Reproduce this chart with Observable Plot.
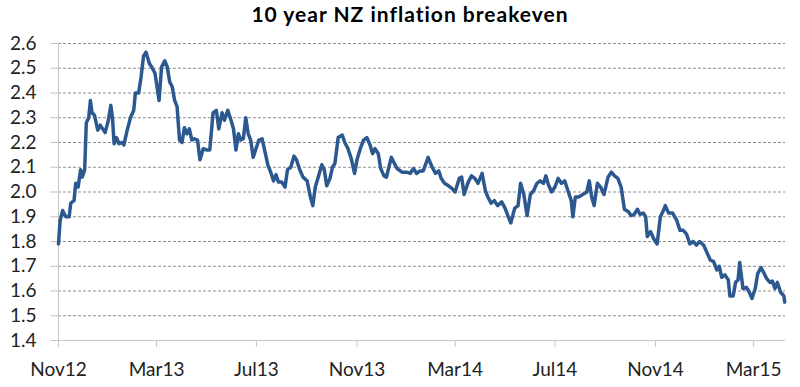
<!DOCTYPE html>
<html><head><meta charset="utf-8">
<script src="https://cdn.jsdelivr.net/npm/d3@7"></script>
<script src="https://cdn.jsdelivr.net/npm/@observablehq/plot@0.6"></script>
<style>
body{margin:0;background:#fff;font-family:Lato,sans-serif}
#title{width:800px;height:30px;line-height:28px;font-weight:bold;font-size:21px;letter-spacing:1px;text-align:center;padding-left:20px;box-sizing:border-box;color:#000}
</style>
</head><body>
<div id="title">10 year NZ inflation breakeven</div>
<div id="chart"></div>
<script>
const title = "10 year NZ inflation breakeven";
const dates = [
"2012-11-01","2012-11-03","2012-11-06","2012-11-10","2012-11-14","2012-11-16","2012-11-20","2012-11-22","2012-11-25","2012-11-28","2012-11-30",
"2012-12-03","2012-12-05","2012-12-08","2012-12-10","2012-12-12","2012-12-15","2012-12-19","2012-12-22","2012-12-25","2012-12-28",
"2013-01-01","2013-01-04","2013-01-06","2013-01-08","2013-01-11","2013-01-14","2013-01-18","2013-01-20","2013-01-24","2013-01-28",
"2013-02-01","2013-02-03","2013-02-07","2013-02-10","2013-02-13","2013-02-16","2013-02-20","2013-02-23","2013-02-27",
"2013-03-04","2013-03-07","2013-03-11","2013-03-14","2013-03-17","2013-03-20","2013-03-23","2013-03-26","2013-03-29",
"2013-04-01","2013-04-04","2013-04-07","2013-04-10","2013-04-13","2013-04-16","2013-04-20","2013-04-23","2013-04-27",
"2013-05-01","2013-05-05","2013-05-09","2013-05-13","2013-05-16","2013-05-20","2013-05-23","2013-05-27","2013-05-31",
"2013-06-03","2013-06-06","2013-06-09","2013-06-12","2013-06-15","2013-06-18","2013-06-21","2013-06-24","2013-06-27","2013-06-30",
"2013-07-04","2013-07-08","2013-07-12","2013-07-15","2013-07-19","2013-07-22","2013-07-25","2013-07-28",
"2013-08-01","2013-08-05","2013-08-08","2013-08-12","2013-08-16","2013-08-19","2013-08-23","2013-08-27",
"2013-09-01","2013-09-05","2013-09-08","2013-09-11","2013-09-15","2013-09-19","2013-09-22","2013-09-25","2013-09-29",
"2013-10-02","2013-10-05","2013-10-09","2013-10-14","2013-10-17","2013-10-21","2013-10-25","2013-10-29",
"2013-11-01","2013-11-05","2013-11-09","2013-11-13","2013-11-17","2013-11-20","2013-11-23","2013-11-27","2013-11-30",
"2013-12-04","2013-12-07","2013-12-10","2013-12-13","2013-12-16","2013-12-20","2013-12-26",
"2014-01-01","2014-01-05","2014-01-09","2014-01-13","2014-01-17","2014-01-21","2014-01-27","2014-01-30",
"2014-02-01","2014-02-05","2014-02-09","2014-02-12","2014-02-16","2014-02-21","2014-02-25",
"2014-03-01","2014-03-06","2014-03-09","2014-03-12","2014-03-17","2014-03-21","2014-03-25","2014-03-29",
"2014-04-03","2014-04-07","2014-04-10","2014-04-14","2014-04-18","2014-04-22","2014-04-27",
"2014-05-01","2014-05-05","2014-05-08","2014-05-13","2014-05-17","2014-05-20","2014-05-24","2014-05-28",
"2014-06-01","2014-06-05","2014-06-09","2014-06-13","2014-06-17","2014-06-20","2014-06-23","2014-06-27",
"2014-07-01","2014-07-05","2014-07-09","2014-07-13","2014-07-17","2014-07-21","2014-07-23","2014-07-26","2014-07-30",
"2014-08-04","2014-08-09","2014-08-12","2014-08-15","2014-08-18","2014-08-22","2014-08-26","2014-08-30",
"2014-09-04","2014-09-08","2014-09-12","2014-09-16","2014-09-20","2014-09-24","2014-09-29",
"2014-10-02","2014-10-06","2014-10-10","2014-10-13","2014-10-17","2014-10-20","2014-10-22","2014-10-26","2014-10-30",
"2014-11-03","2014-11-07","2014-11-10","2014-11-13","2014-11-17","2014-11-22","2014-11-27",
"2014-12-01","2014-12-05","2014-12-09","2014-12-13","2014-12-17","2014-12-21","2014-12-25","2014-12-30",
"2015-01-03","2015-01-07","2015-01-11","2015-01-15","2015-01-18","2015-01-21","2015-01-25","2015-01-29","2015-01-31",
"2015-02-04","2015-02-07","2015-02-10","2015-02-12","2015-02-16","2015-02-20","2015-02-23","2015-02-27",
"2015-03-03","2015-03-06","2015-03-10","2015-03-14","2015-03-17","2015-03-21","2015-03-24","2015-03-27","2015-03-30",
"2015-04-03","2015-04-07","2015-04-08"
];
const breakeven = [
1.79,1.885,1.925,1.90,1.90,1.955,1.965,2.035,2.02,2.09,2.06,
2.09,2.28,2.30,2.37,2.32,2.31,2.25,2.27,2.255,2.24,
2.29,2.35,2.30,2.195,2.22,2.195,2.20,2.19,2.25,2.30,
2.33,2.40,2.40,2.465,2.55,2.565,2.52,2.505,2.48,
2.37,2.505,2.53,2.505,2.445,2.425,2.37,2.345,2.21,
2.20,2.26,2.235,2.255,2.21,2.215,2.21,2.13,2.175,
2.17,2.17,2.32,2.33,2.255,2.32,2.29,2.33,2.29,
2.255,2.17,2.235,2.21,2.215,2.30,2.235,2.21,2.14,2.17,
2.21,2.215,2.155,2.11,2.075,2.045,2.07,2.04,
2.04,2.02,2.09,2.10,2.145,2.13,2.09,2.06,
2.045,1.98,1.945,2.02,2.065,2.11,2.09,2.025,2.055,
2.10,2.115,2.22,2.23,2.20,2.175,2.135,2.075,
2.13,2.175,2.21,2.22,2.19,2.155,2.175,2.155,2.095,
2.065,2.06,2.10,2.14,2.12,2.095,2.08,
2.08,2.075,2.095,2.075,2.085,2.085,2.14,2.115,
2.10,2.075,2.085,2.055,2.035,2.025,2.015,
2.00,2.055,2.06,1.99,2.04,2.065,2.055,2.035,
2.075,2.005,1.98,1.955,1.965,1.945,1.96,
1.935,1.90,1.875,1.935,1.945,2.035,1.99,1.905,
1.99,2.005,2.035,2.045,2.035,2.065,2.03,2.00,
2.02,2.055,2.035,2.045,2.005,1.965,1.90,1.98,1.98,
1.99,2.00,2.045,1.98,1.945,2.035,2.02,1.99,
2.06,2.08,2.065,2.055,2.02,1.93,1.92,
1.905,1.91,1.93,1.91,1.915,1.90,1.82,1.84,1.81,
1.79,1.90,1.92,1.945,1.915,1.915,1.885,
1.845,1.845,1.83,1.79,1.80,1.785,1.80,1.785,
1.755,1.725,1.72,1.685,1.70,1.655,1.665,1.645,1.58,
1.58,1.635,1.645,1.715,1.61,1.615,1.60,1.57,
1.61,1.67,1.695,1.67,1.65,1.635,1.64,1.61,1.635,
1.595,1.58,1.555
];
const xTicks = ["2012-11-01","2013-03-01","2013-07-01","2013-11-01","2014-03-01","2014-07-01","2014-11-01","2015-03-01"];
const xDomain = ["2012-11-01","2015-04-09"];
const yTicks = [1.4,1.5,1.6,1.7,1.8,1.9,2.0,2.1,2.2,2.3,2.4,2.5,2.6];
const gridValues = [1.5,1.6,1.7,1.8,1.9,2.0,2.1,2.2,2.3,2.4,2.5,2.6];

const n = Math.min(dates.length, breakeven.length);
const data = [];
for (let i = 0; i < n; i++) data.push({date: new Date(dates[i]), value: breakeven[i]});

const axisGray = "#c6c6c6";
const chart = Plot.plot({
  width: 800, height: 357,
  marginLeft: 58, marginRight: 15, marginTop: 13, marginBottom: 47,
  style: {fontFamily: "Lato, sans-serif", fontSize: "19px", color: "#222", background: "#fff", overflow: "visible"},
  x: {type: "utc", domain: xDomain.map(d => new Date(d))},
  y: {domain: [1.4, 2.6]},
  marks: [
    Plot.ruleY(gridValues, {stroke: "#8f8f8f", strokeDasharray: "3,2", strokeWidth: 1}),
    Plot.ruleY([1.4], {stroke: axisGray}),
    Plot.ruleX([new Date(xDomain[0])], {stroke: axisGray}),
    Plot.axisY({ticks: yTicks, tickFormat: d3.format(".1f"), tickSize: 8, tickPadding: 14, stroke: axisGray, fill: "#222", label: null}),
    Plot.axisX({ticks: xTicks.map(d => new Date(d)), tickFormat: d3.utcFormat("%b%y"), tickSize: 7, tickPadding: 15, stroke: axisGray, fill: "#222", label: null}),
    Plot.lineY(data, {x: "date", y: "value", stroke: "#2C5890", strokeWidth: 3.5, strokeLinejoin: "round"})
  ]
});
document.getElementById("chart").appendChild(chart);
</script>
</body></html>
